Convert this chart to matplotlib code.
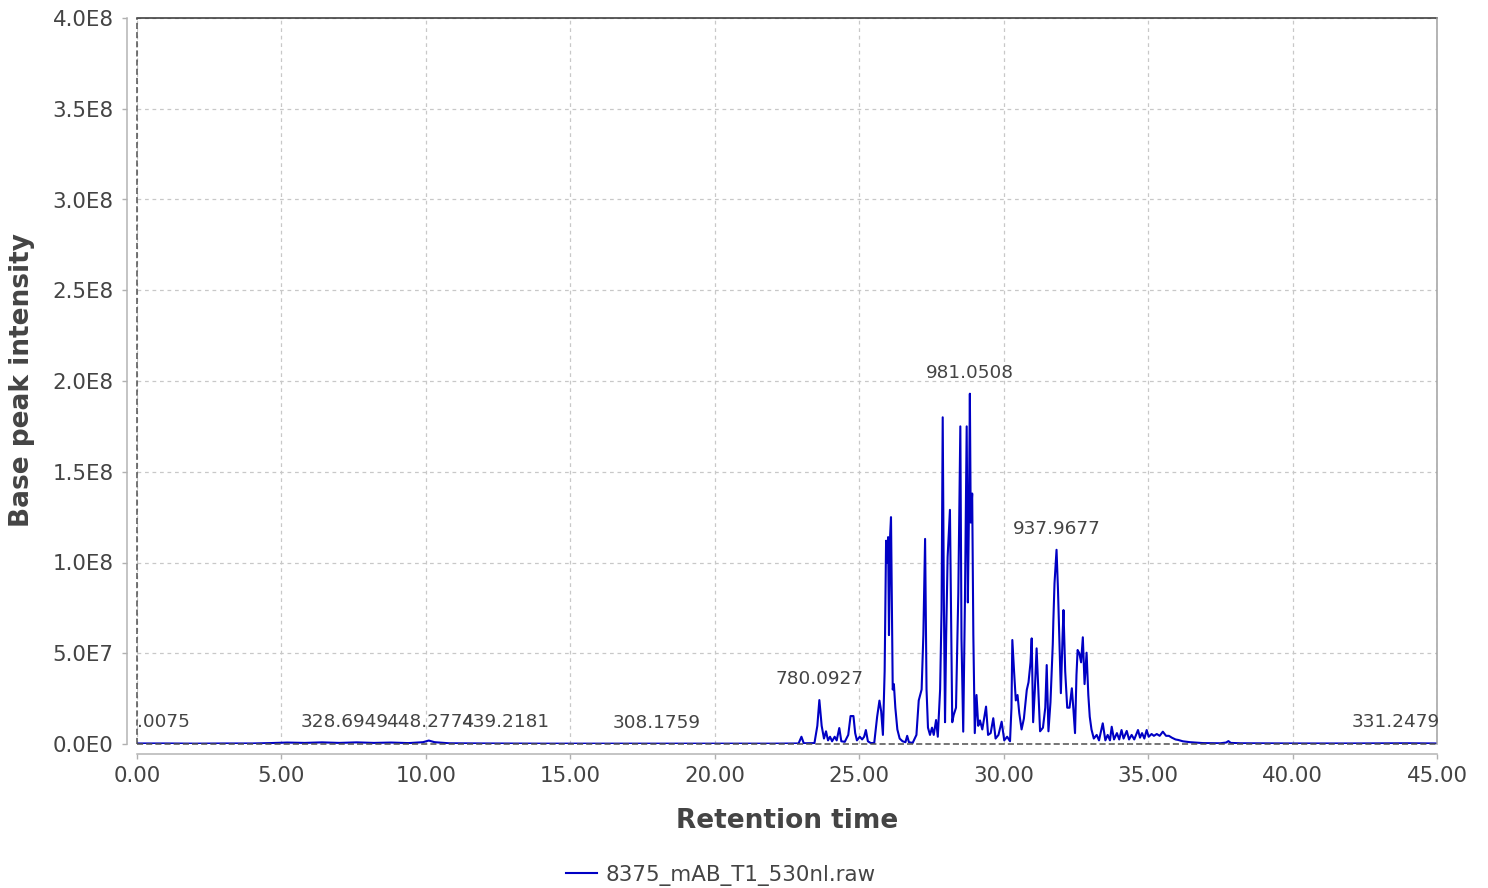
import numpy as np
import matplotlib
matplotlib.use("Agg")
import matplotlib.pyplot as plt

# chromatogramme : temps de rétention (min) et intensité du pic de base (x 1E6)
rt = [0.00, 1.0, 2.0, 3.0, 4.0, 4.6, 5.2, 5.8, 6.4, 7.0, 7.6, 8.2, 8.8, 9.4, 9.9, 10.1,
      10.3, 10.8, 12.0, 14.0, 16.0, 18.0, 20.0, 22.0, 22.9, 23.0, 23.08, 23.45, 23.55,
      23.62, 23.70, 23.78, 23.85, 23.92, 23.99, 24.06, 24.15, 24.22, 24.31, 24.38, 24.50,
      24.62, 24.70, 24.80, 24.86, 24.92, 25.02, 25.10, 25.17, 25.23, 25.30, 25.40, 25.52,
      25.62, 25.70, 25.76, 25.82, 25.88, 25.93, 25.97, 26.00, 26.03, 26.07, 26.10, 26.13,
      26.16, 26.20, 26.25, 26.32, 26.40, 26.50, 26.60, 26.66, 26.72, 26.85, 26.98, 27.06,
      27.16, 27.22, 27.28, 27.33, 27.38, 27.45, 27.52, 27.58, 27.66, 27.72, 27.80, 27.85,
      27.89, 27.93, 27.97, 28.01, 28.06, 28.14, 28.18, 28.22, 28.27, 28.35, 28.43, 28.50,
      28.54, 28.60, 28.66, 28.72, 28.76, 28.80, 28.83, 28.86, 28.91, 28.95, 29.00, 29.06,
      29.12, 29.18, 29.26, 29.39, 29.46, 29.55, 29.64, 29.72, 29.82, 29.93, 30.02, 30.12,
      30.22, 30.27, 30.30, 30.36, 30.42, 30.48, 30.54, 30.62, 30.70, 30.80, 30.86, 30.93,
      30.97, 31.02, 31.08, 31.14, 31.20, 31.26, 31.36, 31.44, 31.49, 31.55, 31.62, 31.70,
      31.72, 31.76, 31.83, 31.88, 31.93, 31.98, 32.04, 32.07, 32.13, 32.20, 32.28, 32.36,
      32.41, 32.47, 32.52, 32.56, 32.62, 32.68, 32.74, 32.80, 32.87, 32.93, 32.98, 33.04,
      33.12, 33.22, 33.30, 33.43, 33.52, 33.60, 33.68, 33.74, 33.82, 33.92, 34.00, 34.08,
      34.15, 34.26, 34.34, 34.43, 34.52, 34.65, 34.72, 34.79, 34.87, 34.95, 35.02, 35.12,
      35.20, 35.30, 35.40, 35.51, 35.62, 35.72, 35.82, 35.95, 36.05, 36.20, 36.45, 36.90,
      37.50, 37.70, 37.78, 37.86, 38.20, 40.0, 42.0, 44.0, 45.0]
intensite_e6 = [0.3, 0.3, 0.2, 0.3, 0.3, 0.5, 0.8, 0.6, 0.9, 0.6, 0.9, 0.6, 0.8, 0.5, 1.0, 1.9,
                1.0, 0.4, 0.3, 0.2, 0.2, 0.2, 0.2, 0.2, 0.3, 4.0, 0.4, 0.5, 10,
                24.2, 10, 3, 7, 2, 4, 1.5, 4, 2, 8.8, 1.5, 1.2,
                5, 15.4, 15.4, 6, 2, 4, 2.5, 4, 7.7, 1.5, 0.5, 0.6,
                15, 23.9, 18, 5, 40, 112, 100, 114, 60, 115, 125, 80,
                30, 33, 20, 8, 3, 1.5, 1.0, 4.5, 1.0, 0.6, 5, 24,
                30, 60, 113, 30, 9, 5, 9, 5, 13.2, 4, 30, 74,
                180, 80, 12, 60, 103, 129, 68, 12, 16, 20, 83, 175,
                58, 6.8, 80, 175, 78, 130, 193, 122, 138, 60, 6, 27,
                10, 13, 8, 20.6, 5, 6, 14.2, 3, 5, 12.3, 2, 4,
                1.5, 20, 57.3, 40, 24, 27, 17, 8, 14, 29.8, 34, 45,
                58.2, 12, 30, 52.7, 30, 7, 9, 20, 43.5, 7, 23, 55,
                68, 88.5, 107, 85, 57, 28, 60, 73.8, 40, 20, 20, 30.7,
                20, 6, 38, 51.8, 50, 45, 58.8, 33, 50.3, 27, 15, 8,
                3, 5, 2, 11.4, 2, 5, 2, 9.5, 2.5, 6, 2.5, 7.7,
                3, 7.2, 2.5, 5, 2.5, 7.7, 3.5, 6, 3, 7.7, 4, 5.5,
                4.5, 5.5, 4.5, 6.8, 4.5, 4.5, 3.5, 2.5, 2.2, 1.5, 1.0, 0.5,
                0.4, 0.8, 1.6, 0.6, 0.4, 0.3, 0.3, 0.4, 0.3]

# étiquettes m/z des pics
label_rt = [0.0, 7.17, 10.15, 12.74, 17.97, 23.62, 28.83, 31.83, 43.58]
label_int_e6 = [0.3, 0.5, 0.5, 0.3, 0.2, 24.2, 193, 107, 0.3]
label_mz = [".0075", "328.6949", "448.2774", "439.2181", "308.1759",
            "780.0927", "981.0508", "937.9677", "331.2479"]

x_ticks = [0, 5, 10, 15, 20, 25, 30, 35, 40, 45]
x_labels = ["0.00", "5.00", "10.00", "15.00", "20.00", "25.00", "30.00", "35.00", "40.00", "45.00"]
y_ticks = [0, 5e7, 1e8, 1.5e8, 2e8, 2.5e8, 3e8, 3.5e8, 4e8]
y_labels = ["0.0E0", "5.0E7", "1.0E8", "1.5E8", "2.0E8", "2.5E8", "3.0E8", "3.5E8", "4.0E8"]

nom_fichier = "8375_mAB_T1_530nl.raw"

gris = '#444444'

fig = plt.figure(figsize=(14.88, 8.88), dpi=100)
ax = fig.add_axes([137 / 1488, 144 / 888, 1300 / 1488, 726 / 888])

intensite = np.array(intensite_e6) * 1e6
ligne, = ax.plot(rt, intensite, color='#0000c4', lw=1.5, zorder=2, label=nom_fichier)

ax.set_xlim(0, 45)
ax.set_ylim(0, 4e8)
ax.set_xticks(x_ticks)
ax.set_xticklabels(x_labels)
ax.set_yticks(y_ticks)
ax.set_yticklabels(y_labels)
ax.tick_params(labelsize=15.4, labelcolor=gris, color='#b0b0b0', length=3.6, width=1.0)
ax.tick_params(axis='x', pad=5)
ax.tick_params(axis='y', pad=6)

ax.set_axisbelow(True)
ax.grid(True, color='#c8c8c8', ls=(0, (3, 3)), lw=0.9)

# axes décalés façon JFreeChart
for cote in ['left', 'bottom']:
    ax.spines[cote].set_position(('outward', 7.2))
    ax.spines[cote].set_color('#b4b4b4')
    ax.spines[cote].set_linewidth(1.1)
ax.spines['top'].set_visible(False)
ax.spines['right'].set_visible(False)

# bordure de la zone de tracé
ax.plot([0, 1], [1, 1], transform=ax.transAxes, color='#303030', lw=1.1, clip_on=False)
ax.plot([1, 1], [0, 1], transform=ax.transAxes, color='#a0a0a0', lw=1.1, clip_on=False)
ax.plot([0, 0], [0, 1], transform=ax.transAxes, color='#505050', lw=1.1,
        ls=(0, (4, 2)), clip_on=False)
ax.plot([0, 1], [0, 0], transform=ax.transAxes, color='#505050', lw=1.1,
        ls=(0, (4, 2)), clip_on=False, zorder=3)

# étiquettes des pics
for i in range(len(label_mz)):
    ha = 'left' if label_mz[i].startswith('.') else 'center'
    ax.annotate(label_mz[i], (label_rt[i], label_int_e6[i] * 1e6),
                xytext=(0, 21), textcoords='offset pixels', ha=ha, va='center',
                fontsize=13.3, color=gris, annotation_clip=False)

fig.text(787.5 / 1488, 1 - 821 / 888, "Retention time", ha='center', va='center',
         fontsize=19, fontweight='bold', color=gris)
fig.text(22 / 1488, 1 - 380 / 888, "Base peak intensity", ha='center', va='center',
         rotation=90, fontsize=19, fontweight='bold', color=gris)

fig.legend(handles=[ligne], loc='center', bbox_to_anchor=(721 / 1488, 1 - 875 / 888),
           frameon=False, fontsize=15.4, handlelength=1.45, handletextpad=0.4,
           labelcolor=gris)

fig.savefig("out.png", dpi=100)
